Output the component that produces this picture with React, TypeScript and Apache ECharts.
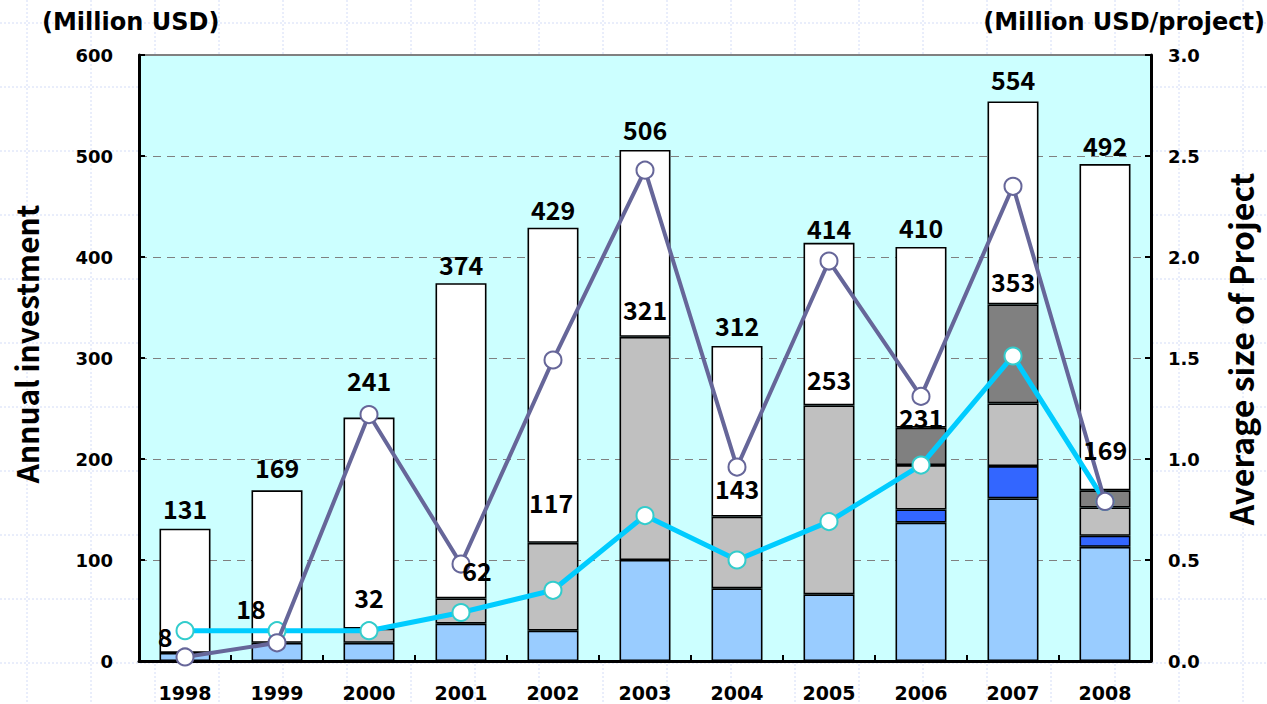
import React, { useEffect, useRef } from "react";
import * as echarts from "echarts";

// ---- data ----
const years = ["1998", "1999", "2000", "2001", "2002", "2003", "2004", "2005", "2006", "2007", "2008"];
const totals = [131, 169, 241, 374, 429, 506, 312, 414, 410, 554, 492];
const lightBlue = [8, 18, 18, 37, 30, 100, 72, 66, 137, 161, 113];
const blue = [0, 0, 0, 0, 0, 0, 0, 0, 13, 32, 11];
const gray = [0, 0, 14, 25, 87, 221, 71, 187, 44, 62, 28];
const darkGray = [0, 0, 0, 0, 0, 0, 0, 0, 37, 98, 17];
const avgSizeA = [0.02, 0.09, 1.22, 0.48, 1.49, 2.43, 0.96, 1.98, 1.31, 2.35, 0.79];
const avgSizeB = [0.15, 0.15, 0.15, 0.24, 0.35, 0.72, 0.5, 0.69, 0.97, 1.51, 0.79];
const leftAxis = { min: 0, max: 600, interval: 100 };
const rightAxis = { min: 0, max: 3, interval: 0.5 };

// ---- label placement (layout only) ----
const totalLift = [21, 23, 38, 19, 19, 21, 21, 15, 20, 22, 19];
const innerLift = [17, 35, 32, 28, 41, 28, 29, 26, 11, 23, 41];
const innerShift = [-20, -26, 0, 16, -2, 0, 0, 0, 0, 0, 0];

const FONT = "'Noto Sans CJK JP', 'Noto Sans', sans-serif";
const TICKFONT = "'DejaVu Sans', sans-serif";

const inner = years.map((_, i) => lightBlue[i] + blue[i] + gray[i] + darkGray[i]);
const white = totals.map((t, i) => t - inner[i]);
const nz = (arr: number[]) => arr.map((v) => (v === 0 ? "-" : v));

export default function App() {
  const ref = useRef<HTMLDivElement>(null);
  useEffect(() => {
    if (!ref.current) return;
    const chart = echarts.init(ref.current, undefined, { renderer: "svg" });

    const bg: any[] = [];
    for (let k = 0; k < 11; k++) {
      const y = 23 + 64 * k;
      bg.push({ type: "line", z: -10, silent: true, shape: { x1: 0, y1: y, x2: 1267, y2: y }, style: { stroke: "#d3dcf7", lineWidth: 1, lineDash: [2, 2] } });
    }
    for (let k = 0; k < 20; k++) {
      const x = 27 + 64 * k;
      bg.push({ type: "line", z: -10, silent: true, shape: { x1: x, y1: 0, x2: x, y2: 704 }, style: { stroke: "#d3dcf7", lineWidth: 1, lineDash: [2, 2] } });
    }

    const barBase = {
      type: "bar",
      stack: "inv",
      barWidth: 51,
      silent: true,
    };
    const border = { borderColor: "#000", borderWidth: 1.6 };
    const dataLabel = {
      show: true,
      position: "inside",
      color: "#000",
      opacity: 1,
      textBorderWidth: 0,
      fontFamily: FONT,
      fontWeight: "bold",
      fontSize: 25,
      formatter: (p: any) => String(p.value),
    };

    const option: any = {
      animation: false,
      graphic: [
        ...bg,
        { type: "text", z: 10, x: 42, y: 22, style: { text: "(Million USD)", font: `bold 24px ${TICKFONT}`, fill: "#000", verticalAlign: "middle" } },
        { type: "text", z: 10, x: 1265, y: 22, style: { text: "(Million USD/project)", font: `bold 24px ${TICKFONT}`, fill: "#000", align: "right", verticalAlign: "middle" } },
        { type: "text", z: 10, x: 26, y: 344, rotation: Math.PI / 2, style: { text: "Annual investment", font: `bold 30px ${FONT}`, fill: "#000", align: "center", verticalAlign: "middle" } },
        { type: "text", z: 10, x: 1240, y: 349, rotation: Math.PI / 2, style: { text: "Average size of Project", font: `bold 32px ${FONT}`, fill: "#000", align: "center", verticalAlign: "middle" } },
      ],
      grid: {
        left: 139,
        right: 116,
        top: 55,
        bottom: 43,
        show: true,
        backgroundColor: "#ccffff",
        borderColor: "#808080",
        borderWidth: 2,
      },
      xAxis: {
        type: "category",
        data: years,
        axisLine: { lineStyle: { color: "#000", width: 3 } },
        axisTick: { show: true, inside: true, length: 6, lineStyle: { color: "#000", width: 2 } },
        axisLabel: { color: "#000", fontFamily: TICKFONT, fontWeight: "bold", fontSize: 19, margin: 22 },
      },
      yAxis: [
        {
          type: "value",
          min: leftAxis.min,
          max: leftAxis.max,
          interval: leftAxis.interval,
          axisLine: { show: true, lineStyle: { color: "#000", width: 3 } },
          axisTick: { show: true, inside: true, length: 6, lineStyle: { color: "#000", width: 2 } },
          axisLabel: { color: "#000", fontFamily: TICKFONT, fontWeight: "bold", fontSize: 18, margin: 26 },
          splitLine: { show: true, lineStyle: { color: "#808080", width: 1, type: [8, 6] } },
        },
        {
          type: "value",
          min: rightAxis.min,
          max: rightAxis.max,
          interval: rightAxis.interval,
          position: "right",
          axisLine: { show: true, lineStyle: { color: "#000", width: 3 } },
          axisTick: { show: true, inside: true, length: 6, lineStyle: { color: "#000", width: 2 } },
          axisLabel: { color: "#000", fontFamily: TICKFONT, fontWeight: "bold", fontSize: 18, margin: 17, formatter: (v: number) => v.toFixed(1) },
          splitLine: { show: false },
        },
      ],
      series: [
        { ...barBase, name: "s1", data: nz(lightBlue), itemStyle: { color: "#99ccff", ...border } },
        { ...barBase, name: "s2", data: nz(blue), itemStyle: { color: "#3366ff", ...border } },
        { ...barBase, name: "s3", data: nz(gray), itemStyle: { color: "#c0c0c0", ...border } },
        { ...barBase, name: "s4", data: nz(darkGray), itemStyle: { color: "#808080", ...border } },
        { ...barBase, name: "s5", data: white, itemStyle: { color: "#ffffff", ...border } },
        {
          type: "line",
          name: "avgB",
          yAxisIndex: 1,
          data: avgSizeB,
          z: 3,
          silent: true,
          symbol: "circle",
          symbolSize: 17,
          lineStyle: { color: "#00ccff", width: 5 },
          itemStyle: { color: "#ffffff", borderColor: "#33cccc", borderWidth: 2 },
        },
        {
          type: "line",
          name: "avgA",
          yAxisIndex: 1,
          data: avgSizeA,
          z: 4,
          silent: true,
          symbol: "circle",
          symbolSize: 17,
          lineStyle: { color: "#666699", width: 4 },
          itemStyle: { color: "#ffffff", borderColor: "#666699", borderWidth: 2 },
        },
        {
          type: "scatter",
          name: "totalLabels",
          z: 6,
          silent: true,
          symbolSize: 0.1,
          itemStyle: { color: "rgba(0,0,0,0)" },
          data: totals.map((v, i) => ({ value: v, label: { offset: [0, -totalLift[i]] } })),
          label: dataLabel,
        },
        {
          type: "scatter",
          name: "innerLabels",
          z: 6,
          silent: true,
          symbolSize: 0.1,
          itemStyle: { color: "rgba(0,0,0,0)" },
          data: inner.map((v, i) => ({ value: v, label: { offset: [innerShift[i], -innerLift[i]] } })),
          label: dataLabel,
        },
      ],
    };
    chart.setOption(option);
    return () => chart.dispose();
  }, []);
  return <div ref={ref} style={{ position: "fixed", left: 0, top: 0, width: 1267, height: 704, background: "#fff" }} />;
}
